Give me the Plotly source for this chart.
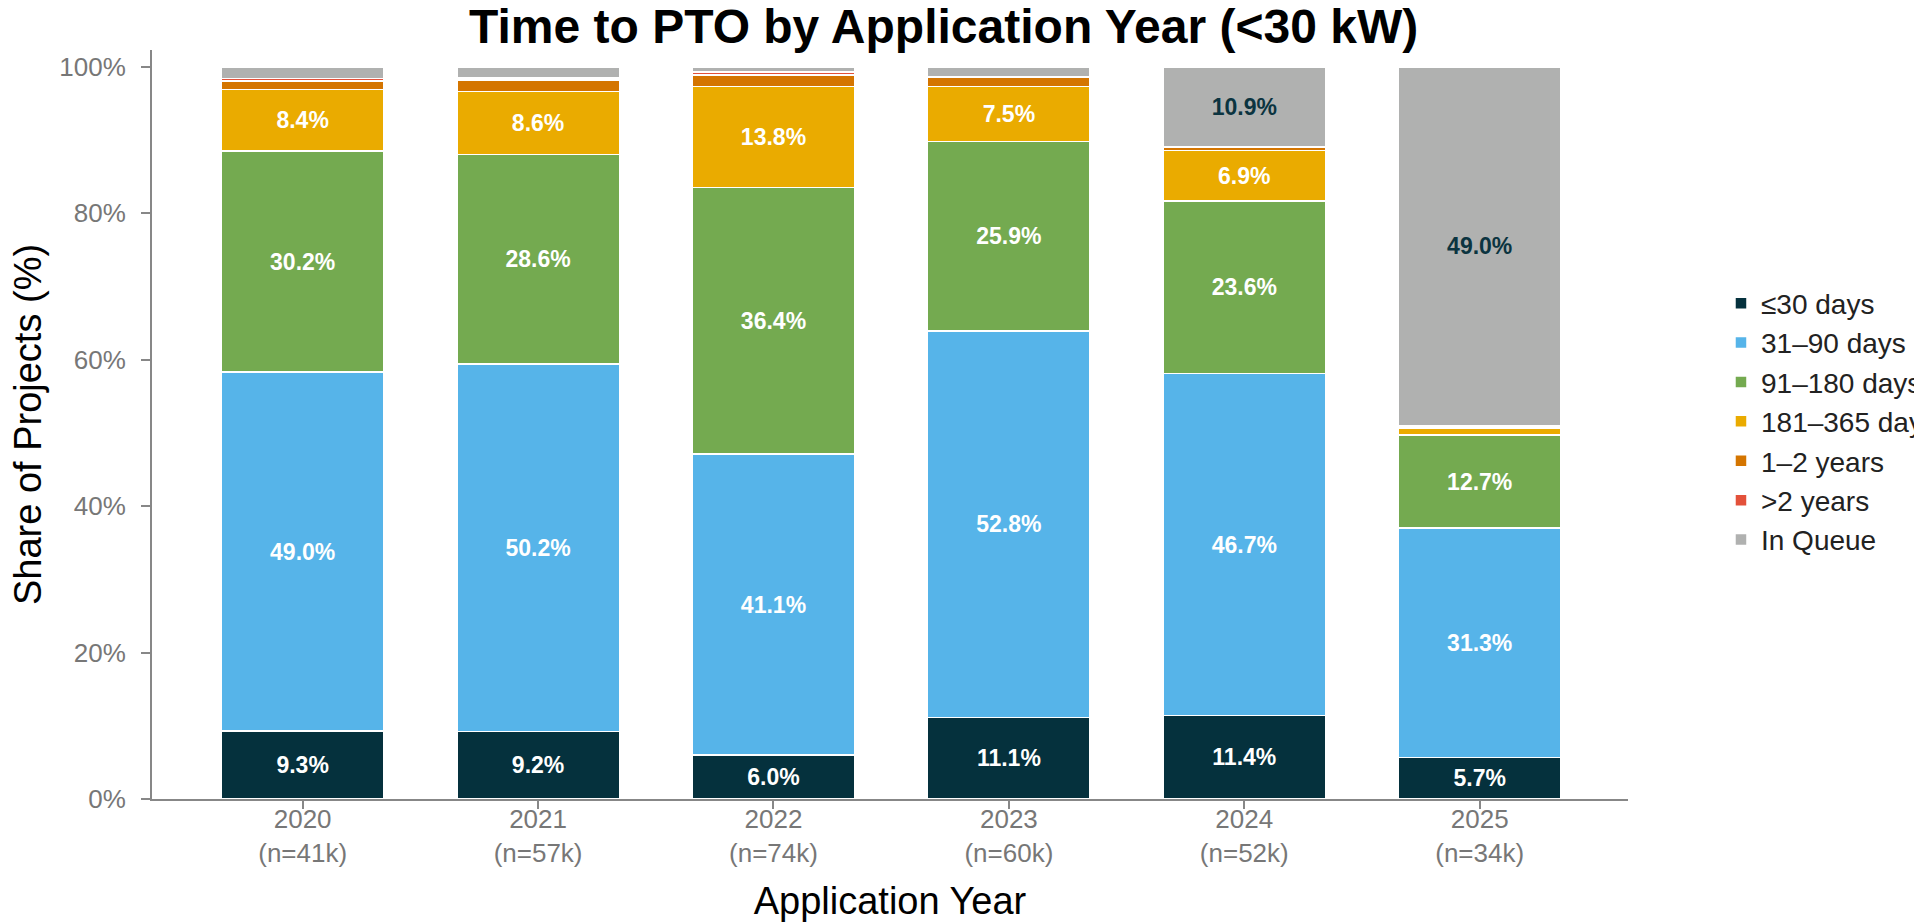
import plotly.graph_objects as go

years = ["2020", "2021", "2022", "2023", "2024", "2025"]
n_labels = ["(n=41k)", "(n=57k)", "(n=74k)", "(n=60k)", "(n=52k)", "(n=34k)"]

series_names = ["≤30 days", "31–90 days", "91–180 days", "181–365 days",
                "1–2 years", ">2 years", "In Queue"]
le30 = [9.3, 9.2, 6.0, 11.1, 11.4, 5.7]
d31_90 = [49.0, 50.2, 41.1, 52.8, 46.7, 31.3]
d91_180 = [30.2, 28.6, 36.4, 25.9, 23.6, 12.7]
d181_365 = [8.4, 8.6, 13.8, 7.5, 6.9, 1.0]
y1_2 = [1.2, 1.6, 1.6, 1.3, 0.4, 0.2]
gt2 = [0.3, 0.3, 0.4, 0.1, 0.1, 0.1]
queue = [1.6, 1.5, 0.7, 1.3, 10.9, 49.0]

series_values = [le30, d31_90, d91_180, d181_365, y1_2, gt2, queue]
colors = ["#05313D", "#56B4E9", "#74AA50", "#EAAB00", "#D47500", "#E3513A", "#B0B1B0"]
label_colors = ["white", "white", "white", "white", "white", "white", "#0B3440"]

FONT = "Liberation Sans, Arial, Helvetica, sans-serif"

fig = go.Figure()
for name, vals, col, lc in zip(series_names, series_values, colors, label_colors):
    fig.add_trace(go.Bar(
        name=name,
        x=years,
        y=vals,
        width=0.69,
        marker=dict(color=col, line=dict(color="white", width=1.5)),
        text=[f"{v:.1f}%" if v >= 5 else "" for v in vals],
        textposition="inside",
        insidetextanchor="middle",
        textangle=0,
        textfont=dict(family=FONT, size=23, color=lc, weight="bold"),
        hoverinfo="name+y",
    ))

fig.update_layout(
    barmode="stack",
    width=1914,
    height=922,
    paper_bgcolor="white",
    plot_bgcolor="white",
    margin=dict(l=152, r=286, t=50, b=123, autoexpand=False),
    font=dict(family=FONT),
    title=dict(
        text="<b>Time to PTO by Application Year (&lt;30 kW)</b>",
        font=dict(family=FONT, size=48, color="black"),
        x=0.493, xanchor="center", xref="container",
        y=0.972, yanchor="middle", yref="container",
        automargin=False,
    ),
    legend=dict(
        x=1.063, xanchor="left",
        y=0.695, yanchor="top",
        traceorder="normal",
        font=dict(family=FONT, size=28, color="#222222"),
        bgcolor="rgba(0,0,0,0)",
        itemclick=False,
    ),
)

fig.update_xaxes(
    type="category",
    tickmode="array",
    tickvals=years,
    ticktext=[f"{y}<br>{n}" for y, n in zip(years, n_labels)],
    range=[-0.64, 5.63],
    automargin=False,
    showline=True, linecolor="#878787", linewidth=2,
    ticks="outside", ticklen=8, tickwidth=2, tickcolor="#878787",
    tickfont=dict(family=FONT, size=26, color="#777777"),
    ticklabelstandoff=-12,
    showgrid=False, zeroline=False,
    title=dict(text="Application Year", font=dict(family=FONT, size=38, color="black"), standoff=22),
)

fig.update_yaxes(
    range=[0, 102.3],
    tickmode="array",
    tickvals=[0, 20, 40, 60, 80, 100],
    ticktext=["0%", "20%", "40%", "60%", "80%", "100%"],
    automargin=False,
    showline=True, linecolor="#878787", linewidth=2,
    ticks="outside", ticklen=9, tickwidth=2, tickcolor="#878787",
    tickfont=dict(family=FONT, size=26, color="#777777"),
    ticklabelstandoff=10,
    showgrid=False, zeroline=False,
    title=dict(text="Share of Projects (%)", font=dict(family=FONT, size=38, color="black"), standoff=6),
)

fig.write_html(
    "out.html",
    config={"displayModeBar": False},
    post_script="document.body.style.margin='0';document.body.style.overflow='hidden';",
)
